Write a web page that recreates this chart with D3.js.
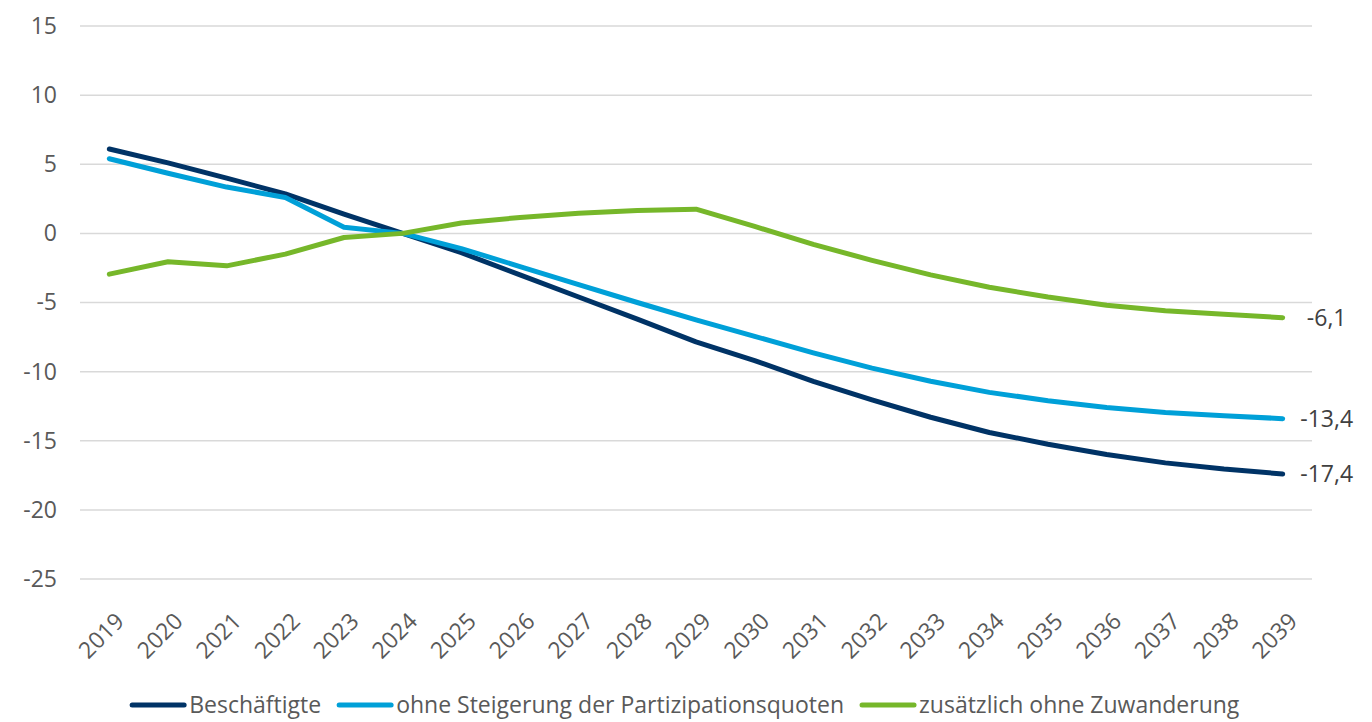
<!DOCTYPE html>
<html>
<head>
<meta charset="utf-8">
<script src="https://cdn.jsdelivr.net/npm/d3@7"></script>
<style>
  body { margin: 0; background: #fff; }
  svg { display: block; font-family: 'Open Sans', sans-serif; }
</style>
</head>
<body>
<svg id="chart" width="1372" height="722"></svg>
<script>
const years = ['2019', '2020', '2021', '2022', '2023', '2024', '2025', '2026', '2027', '2028', '2029',
  '2030', '2031', '2032', '2033', '2034', '2035', '2036', '2037', '2038', '2039'];

const beschaeftigte = [6.1, 5.1, 4.0, 2.85, 1.4, 0, -1.4, -3.0, -4.6, -6.2, -7.85,
  -9.2, -10.7, -12.05, -13.3, -14.4, -15.25, -16.0, -16.6, -17.05, -17.4];
const ohneSteigerung = [5.4, 4.35, 3.35, 2.6, 0.45, 0, -1.1, -2.4, -3.7, -5.0, -6.25,
  -7.45, -8.65, -9.75, -10.7, -11.5, -12.1, -12.6, -12.95, -13.2, -13.4];
const ohneZuwanderung = [-2.95, -2.05, -2.35, -1.5, -0.3, 0, 0.75, 1.15, 1.45, 1.65, 1.75,
  0.5, -0.8, -1.95, -3.0, -3.9, -4.6, -5.2, -5.6, -5.85, -6.1];

const yTicks = [15, 10, 5, 0, -5, -10, -15, -20, -25];

const seriesNames = ['Beschäftigte', 'ohne Steigerung der Partizipationsquoten', 'zusätzlich ohne Zuwanderung'];
const seriesColors = ['#003366', '#00a0d8', '#76b72a'];
const seriesValues = [beschaeftigte, ohneSteigerung, ohneZuwanderung];

const MARGINS = { top: 26, left: 80, right: 60, bottom: 143 };
const FONT = 23;
const svg = d3.select('#chart');
const width = +svg.attr('width');
const height = +svg.attr('height');
const textColor = '#595959';

// German number format with a plain hyphen
const fmt = v => String(v).replace('.', ',');

const x = d3.scalePoint()
  .domain(years)
  .range([MARGINS.left, width - MARGINS.right])
  .padding(0.5);

const y = d3.scaleLinear()
  .domain([-25, 15])
  .range([height - MARGINS.bottom, MARGINS.top]);

// grid
svg.append('g').attr('class', 'grid')
  .selectAll('line')
  .data(yTicks)
  .join('line')
  .attr('x1', MARGINS.left)
  .attr('x2', width - MARGINS.right)
  .attr('y1', d => y(d))
  .attr('y2', d => y(d))
  .attr('stroke', '#d9d9d9')
  .attr('stroke-width', 1.5);

// y axis
const axisY = svg.append('g')
  .attr('transform', `translate(${MARGINS.left - 23}, 0)`)
  .call(d3.axisLeft(y).tickValues(yTicks).tickFormat(fmt).tickSize(0).tickPadding(0));
axisY.select('.domain').remove();
axisY.selectAll('text')
  .attr('fill', textColor)
  .style('font-size', FONT + 'px')
  .style('font-family', "'Open Sans', sans-serif");

// x axis (rotated labels)
const axisX = svg.append('g')
  .attr('transform', `translate(0, ${height - MARGINS.bottom + 38})`)
  .call(d3.axisBottom(x).tickSize(0).tickPadding(0));
axisX.select('.domain').remove();
axisX.selectAll('text')
  .attr('fill', textColor)
  .style('font-size', FONT + 'px')
  .style('font-family', "'Open Sans', sans-serif")
  .attr('text-anchor', 'end')
  .attr('dy', '0.35em')
  .attr('transform', 'translate(10, 0) rotate(-45)');

// lines
const line = d3.line()
  .x((d, i) => x(years[i]))
  .y(d => y(d));

svg.append('g').attr('class', 'lines')
  .selectAll('path')
  .data(seriesValues)
  .join('path')
  .attr('d', d => line(d))
  .attr('fill', 'none')
  .attr('stroke', (d, i) => seriesColors[i])
  .attr('stroke-width', 5)
  .attr('stroke-linecap', 'round')
  .attr('stroke-linejoin', 'round');

// end labels
const last = years.length - 1;
svg.append('g').attr('class', 'labels')
  .selectAll('text')
  .data(seriesValues)
  .join('text')
  .attr('x', x(years[last]) + 44)
  .attr('y', d => y(d[last]))
  .attr('dy', '0.35em')
  .attr('text-anchor', 'middle')
  .attr('fill', '#404040')
  .style('font-size', FONT + 'px')
  .text(d => fmt(d[last]));

// legend
const legend = svg.append('g').attr('class', 'legend')
  .attr('transform', `translate(0, ${height - 17})`);
const items = legend.selectAll('g')
  .data(seriesNames)
  .join('g');
items.append('line')
  .attr('x2', 52)
  .attr('stroke', (d, i) => seriesColors[i])
  .attr('stroke-width', 5)
  .attr('stroke-linecap', 'round');
items.append('text')
  .attr('x', 57)
  .attr('dy', '0.35em')
  .attr('fill', textColor)
  .style('font-size', FONT + 'px')
  .text(d => d);

const widths = [];
items.each(function () {
  widths.push(this.getBBox().width);
});
const gap = 18;
const total = d3.sum(widths) + gap * (widths.length - 1);
let offset = (width - total) / 2;
items.attr('transform', (d, i) => {
  const tx = offset;
  offset += widths[i] + gap;
  return `translate(${tx}, 0)`;
});
</script>
</body>
</html>
